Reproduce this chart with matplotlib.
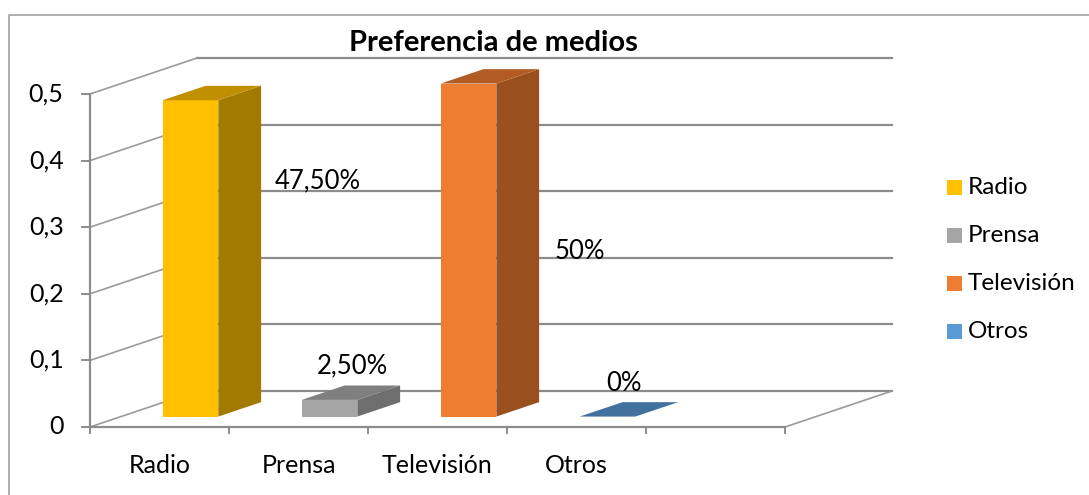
import matplotlib.pyplot as plt
from matplotlib.patches import Polygon, Rectangle
from matplotlib.lines import Line2D

# data
categories = ['Radio', 'Prensa', 'Televisión', 'Otros']
values = [0.475, 0.025, 0.5, 0.0]
value_labels = ['47,50%', '2,50%', '50%', '0%']
y_ticks = [0, 0.1, 0.2, 0.3, 0.4, 0.5]
y_tick_labels = ['0', '0,1', '0,2', '0,3', '0,4', '0,5']
n_slots = 5  # excel left an empty fifth slot on the axis

# colours: front face, side face, top face, legend swatch
front_colors = ['#FFC000', '#A5A5A5', '#ED7D31', '#41719C']
side_colors = ['#A27A00', '#6E6E6E', '#9A4F1F', '#41719C']
top_colors = ['#C09000', '#7F7F7F', '#B25B22', '#41719C']
legend_colors = ['#FFC000', '#A5A5A5', '#ED7D31', '#5B9BD5']

# fake 3d projection: depth offset in data units
DX = 107 / 139
DY = 36 / 666
BAR_W = 0.4
BAR_FRONT = 0.29
BAR_DEPTH = 0.4

# label anchors (slot units, value units), excel places these oddly
label_pos = [(1.64, 0.369), (1.885, 0.092), (3.525, 0.263), (3.84, 0.066)]

plt.rcParams['font.family'] = ['Lato', 'DejaVu Sans']
W, H = 1089, 495
fig = plt.figure(figsize=(W / 100, H / 100), dpi=100)
ax = fig.add_axes([0, 0, 1, 1])
ax.set_xlim(-90 / 139, (W - 90) / 139)
ax.set_ylim(-(H - 427) / 666, 427 / 666)
ax.axis('off')


def proj(x, y, d):
    return (x + d * DX, y + d * DY)


grid_c = '#8C8C8C'
# back wall gridlines and left wall diagonals
for v in y_ticks:
    x0, y0 = proj(0, v, 1)
    x1, y1 = proj(n_slots, v, 1)
    ax.plot([x0, x1], [y0, y1], color=grid_c, lw=1.6, zorder=1)
    ax.plot([0, x0], [v, y0], color='#9A9A9A', lw=1.2, zorder=1)
    ax.plot([-0.06, 0], [v, v], color=grid_c, lw=1.4, zorder=1)
# floor right edge
xr, yr = proj(n_slots, 0, 1)
ax.plot([n_slots, xr], [0, yr], color='#9A9A9A', lw=1.2, zorder=1)
# axes lines
ax.plot([0, 0], [0, max(y_ticks)], color=grid_c, lw=1.6, zorder=1)
ax.plot([0, n_slots], [0, 0], color=grid_c, lw=1.6, zorder=1)
for i in range(n_slots + 1):
    ax.plot([i, i], [0, -0.009], color=grid_c, lw=1.4, zorder=1)

for v, lab in zip(y_ticks, y_tick_labels):
    ax.text(-0.19, v, lab, ha='right', va='center', fontsize=18)
for i, cat in enumerate(categories):
    ax.text(i + 0.5, -0.058, cat, ha='center', va='center', fontsize=18)

# bars
for i, v in enumerate(values):
    xl = i + 0.5 - BAR_W / 2
    xr_ = xl + BAR_W
    d0, d1 = BAR_FRONT, BAR_FRONT + BAR_DEPTH
    front = [proj(xl, 0, d0), proj(xr_, 0, d0), proj(xr_, v, d0), proj(xl, v, d0)]
    side = [proj(xr_, 0, d0), proj(xr_, 0, d1), proj(xr_, v, d1), proj(xr_, v, d0)]
    top = [proj(xl, v, d0), proj(xr_, v, d0), proj(xr_, v, d1), proj(xl, v, d1)]
    z = 3
    if v > 0:
        ax.add_patch(Polygon(front, closed=True, fc=front_colors[i], ec='none', zorder=z))
        ax.add_patch(Polygon(side, closed=True, fc=side_colors[i], ec='none', zorder=z))
    ax.add_patch(Polygon(top, closed=True, fc=top_colors[i], ec='none', zorder=z))

for (lx, ly), lab in zip(label_pos, value_labels):
    ax.text(lx, ly, lab, ha='center', va='center', fontsize=18.5, zorder=5)

# title
fig.text(493 / W, 1 - 43 / H, 'Preferencia de medios', ha='center', va='center',
         fontsize=21, fontweight='bold')

# legend drawn by hand so rows sit where excel put them
for i, (cat, c) in enumerate(zip(categories, legend_colors)):
    yc = 187 + i * 48.3
    fig.patches.append(Rectangle((947 / W, 1 - (yc + 7.5) / H), 15 / W, 15 / H,
                                 transform=fig.transFigure, fc=c, ec='none'))
    fig.text(968 / W, 1 - yc / H, cat, ha='left', va='center', fontsize=17.5)

# chart area border (only top and left visible in the crop)
fig.add_artist(Line2D([9 / W, 9 / W, 1], [0, 1 - 15 / H, 1 - 15 / H],
                      transform=fig.transFigure, color='#A0A0A0', lw=1.2))

fig.savefig('out.png', dpi=100)
